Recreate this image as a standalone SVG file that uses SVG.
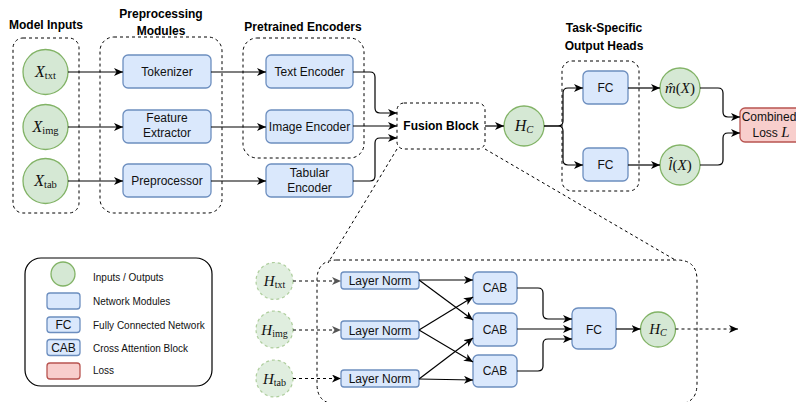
<svg xmlns="http://www.w3.org/2000/svg" width="796" height="402" viewBox="0 0 796 402">
  <style>
    .hdr { font-family: "Liberation Sans", Arial, sans-serif; font-size: 12px; font-weight: bold; fill: #000; text-anchor: middle; }
    .lbl { font-family: "Liberation Sans", Arial, sans-serif; font-size: 12px; fill: #111; text-anchor: middle; }
    .leg { font-family: "Liberation Sans", Arial, sans-serif; font-size: 10px; fill: #111; }
    .math { font-family: "Liberation Serif", "Times New Roman", serif; fill: #111; text-anchor: middle; }
    .io { fill: #d5e8d4; stroke: #82b366; stroke-width: 1.3; }
    .io-ghost { fill: #d5e8d4; fill-opacity: 0.75; stroke: #82b366; stroke-opacity: 0.6; stroke-width: 1.2; stroke-dasharray: 3 3; }
    .mod { fill: #dae8fc; stroke: #6c8ebf; stroke-width: 1.3; }
    .loss { fill: #f8cecc; stroke: #b85450; stroke-width: 1.3; }
    .group { fill: none; stroke: #000; stroke-width: 1; stroke-dasharray: 3 3; }
    .edge { fill: none; stroke: #000; stroke-width: 1.2; }
    .dash { fill: none; stroke: #000; stroke-width: 1; stroke-dasharray: 3 3; }
  </style>
  <defs>
    <marker id="arrow" markerUnits="userSpaceOnUse" markerWidth="10" markerHeight="9" refX="9" refY="4" orient="auto">
      <path d="M0,0 L9,4 L0,8 L2.5,4 Z" fill="#000"/>
    </marker>
    <marker id="arrow-grey" markerUnits="userSpaceOnUse" markerWidth="10" markerHeight="9" refX="9" refY="4" orient="auto">
      <path d="M0,0 L9,4 L0,8 L2.5,4 Z" fill="#555"/>
    </marker>
  </defs>
  <rect width="796" height="402" fill="#fff"/>

  <!-- group containers and headings -->
  <g id="model-inputs">
    <rect class="group" x="13" y="38" width="66" height="175" rx="10"/>
    <text class="hdr" x="46" y="29">Model Inputs</text>
  </g>
  <g id="preprocessing-modules">
    <rect class="group" x="100" y="37" width="122" height="176" rx="14"/>
    <text class="hdr" x="161" y="18">Preprocessing</text>
    <text class="hdr" x="161" y="35">Modules</text>
  </g>
  <g id="pretrained-encoders">
    <rect class="group" x="243" y="38" width="121" height="120" rx="14"/>
    <text class="hdr" x="303" y="31">Pretrained Encoders</text>
  </g>
  <g id="output-heads">
    <rect class="group" x="562" y="61" width="77" height="130" rx="10"/>
    <text class="hdr" x="604" y="32">Task-Specific</text>
    <text class="hdr" x="604" y="50">Output Heads</text>
  </g>

  <!-- inputs -->
  <g id="x-txt">
    <circle class="io" cx="45.5" cy="72" r="22.5"/>
    <text class="math" x="45.5" y="77"><tspan font-style="italic" font-size="16">X</tspan><tspan font-size="10.5" dy="2">txt</tspan></text>
  </g>
  <g id="x-img">
    <circle class="io" cx="45.5" cy="127" r="22.5"/>
    <text class="math" x="45.5" y="132"><tspan font-style="italic" font-size="16">X</tspan><tspan font-size="10.5" dy="2">img</tspan></text>
  </g>
  <g id="x-tab">
    <circle class="io" cx="45.5" cy="181" r="22.5"/>
    <text class="math" x="45.5" y="186"><tspan font-style="italic" font-size="16">X</tspan><tspan font-size="10.5" dy="2">tab</tspan></text>
  </g>

  <!-- preprocessing -->
  <g id="tokenizer">
    <rect class="mod" x="123" y="55" width="88" height="33" rx="5"/>
    <text class="lbl" x="167" y="76">Tokenizer</text>
  </g>
  <g id="feature-extractor">
    <rect class="mod" x="123" y="110" width="88" height="33" rx="5"/>
    <text class="lbl" x="167" y="122">Feature</text>
    <text class="lbl" x="167" y="137">Extractor</text>
  </g>
  <g id="preprocessor">
    <rect class="mod" x="123" y="164" width="88" height="33" rx="5"/>
    <text class="lbl" x="167" y="185">Preprocessor</text>
  </g>

  <!-- encoders -->
  <g id="text-encoder">
    <rect class="mod" x="266" y="55" width="87" height="33" rx="5"/>
    <text class="lbl" x="309.5" y="76">Text Encoder</text>
  </g>
  <g id="image-encoder">
    <rect class="mod" x="266" y="110" width="87" height="33" rx="5"/>
    <text class="lbl" x="309.5" y="131">Image Encoder</text>
  </g>
  <g id="tabular-encoder">
    <rect class="mod" x="266" y="164" width="87" height="33" rx="5"/>
    <text class="lbl" x="309.5" y="177">Tabular</text>
    <text class="lbl" x="309.5" y="192">Encoder</text>
  </g>

  <!-- fusion and heads -->
  <g id="fusion-block">
    <rect class="group" x="397" y="103" width="88" height="46" rx="7"/>
    <text class="hdr" x="441" y="130">Fusion Block</text>
  </g>
  <g id="h-c">
    <circle class="io" cx="524" cy="126" r="20"/>
    <text class="math" x="524" y="131"><tspan font-style="italic" font-size="16">H</tspan><tspan font-style="italic" font-size="10.5" dy="2">C</tspan></text>
  </g>
  <g id="fc-m">
    <rect class="mod" x="583" y="71" width="45" height="33" rx="5"/>
    <text class="lbl" x="605.5" y="92">FC</text>
  </g>
  <g id="fc-l">
    <rect class="mod" x="583" y="148" width="45" height="33" rx="5"/>
    <text class="lbl" x="605.5" y="169">FC</text>
  </g>
  <g id="m-hat">
    <circle class="io" cx="680" cy="88" r="20"/>
    <text class="math" x="680" y="93" font-size="15"><tspan font-style="italic">m̂</tspan>(<tspan font-style="italic">X</tspan>)</text>
  </g>
  <g id="l-hat">
    <circle class="io" cx="680" cy="165" r="20"/>
    <text class="math" x="680" y="170" font-size="15"><tspan font-style="italic">l̂</tspan>(<tspan font-style="italic">X</tspan>)</text>
  </g>
  <g id="combined-loss">
    <rect class="loss" x="740" y="108" width="68" height="34" rx="5"/>
    <text class="lbl" x="769" y="121" font-size="11.5">Combined</text>
    <text class="lbl" x="771" y="137">Loss <tspan font-family="Liberation Serif, serif" font-style="italic" font-size="15">L</tspan></text>
  </g>

  <!-- legend -->
  <g id="legend">
    <rect x="25" y="258" width="187" height="128" rx="16" fill="#fff" stroke="#000" stroke-width="1.2"/>
    <circle class="io" cx="63" cy="274" r="12"/>
    <rect class="mod" x="47" y="293" width="33" height="16" rx="3"/>
    <rect class="mod" x="47" y="317" width="33" height="15.5" rx="3"/>
    <text class="lbl" x="63.5" y="329">FC</text>
    <rect class="mod" x="47" y="339.5" width="33" height="16" rx="3"/>
    <text class="lbl" x="63.5" y="352">CAB</text>
    <rect class="loss" x="47" y="363" width="33" height="16" rx="3"/>
    <text class="leg" x="93" y="280.5">Inputs / Outputs</text>
    <text class="leg" x="93" y="305">Network Modules</text>
    <text class="leg" x="93" y="329">Fully Connected Network</text>
    <text class="leg" x="93" y="351.5">Cross Attention Block</text>
    <text class="leg" x="93" y="373.5">Loss</text>
  </g>

  <!-- fusion block detail -->
  <g id="fusion-detail">
    <path class="group" d="M337,260 H677 Q697,260 697,280 V384 Q697,404 677,404 H337 Q317,404 317,384 V280 Q317,260 337,260 Z"/>
  </g>
  <g id="h-txt">
    <circle class="io-ghost" cx="274.5" cy="281" r="18.5"/>
    <text class="math" x="274.5" y="286"><tspan font-style="italic" font-size="15">H</tspan><tspan font-size="10" dy="2">txt</tspan></text>
  </g>
  <g id="h-img">
    <circle class="io-ghost" cx="274.5" cy="329.5" r="18.5"/>
    <text class="math" x="274.5" y="334.5"><tspan font-style="italic" font-size="15">H</tspan><tspan font-size="10" dy="2">img</tspan></text>
  </g>
  <g id="h-tab">
    <circle class="io-ghost" cx="274.5" cy="378.5" r="18.5"/>
    <text class="math" x="274.5" y="383.5"><tspan font-style="italic" font-size="15">H</tspan><tspan font-size="10" dy="2">tab</tspan></text>
  </g>
  <g id="layer-norm-txt">
    <rect class="mod" x="341" y="272" width="78" height="17" rx="3"/>
    <text class="lbl" x="380" y="285" font-size="11.5">Layer Norm</text>
  </g>
  <g id="layer-norm-img">
    <rect class="mod" x="341" y="321" width="78" height="18" rx="3"/>
    <text class="lbl" x="380" y="334.5" font-size="11.5">Layer Norm</text>
  </g>
  <g id="layer-norm-tab">
    <rect class="mod" x="341" y="370" width="78" height="17" rx="3"/>
    <text class="lbl" x="380" y="383" font-size="11.5">Layer Norm</text>
  </g>
  <g id="cab-1">
    <rect class="mod" x="473" y="272" width="44" height="32" rx="5"/>
    <text class="lbl" x="495" y="292">CAB</text>
  </g>
  <g id="cab-2">
    <rect class="mod" x="473" y="313" width="44" height="33" rx="5"/>
    <text class="lbl" x="495" y="333.5">CAB</text>
  </g>
  <g id="cab-3">
    <rect class="mod" x="473" y="355" width="44" height="32" rx="5"/>
    <text class="lbl" x="495" y="375">CAB</text>
  </g>
  <g id="fc-fusion">
    <rect class="mod" x="572" y="308" width="44" height="41" rx="6"/>
    <text class="lbl" x="594" y="333.5">FC</text>
  </g>
  <g id="h-c-fusion">
    <circle class="io" cx="658" cy="329.5" r="17.5"/>
    <text class="math" x="658" y="334"><tspan font-style="italic" font-size="15">H</tspan><tspan font-style="italic" font-size="10" dy="2">C</tspan></text>
  </g>

  <!-- connectors -->
  <g id="connectors">
    <path class="edge" marker-end="url(#arrow)" d="M68,72 H123"/>
    <path class="edge" marker-end="url(#arrow)" d="M68,127 H123"/>
    <path class="edge" marker-end="url(#arrow)" d="M68,181 H123"/>
    <path class="edge" marker-end="url(#arrow)" d="M211,72 H266"/>
    <path class="edge" marker-end="url(#arrow)" d="M211,127 H266"/>
    <path class="edge" marker-end="url(#arrow)" d="M211,181 H266"/>
    <path class="edge" marker-end="url(#arrow)" d="M353,72 H370 Q375,72 375,77 V108 Q375,113 380,113 H397"/>
    <path class="edge" marker-end="url(#arrow)" d="M353,126 H397"/>
    <path class="edge" marker-end="url(#arrow)" d="M353,181 H370 Q375,181 375,176 V143 Q375,138 380,138 H397"/>
    <path class="edge" marker-end="url(#arrow)" d="M485,126 H504"/>
    <path class="edge" marker-end="url(#arrow)" d="M544,126 H558 Q563,126 563,121 V93 Q563,88 568,88 H583"/>
    <path class="edge" marker-end="url(#arrow)" d="M544,126 H558 Q563,126 563,131 V160 Q563,165 568,165 H583"/>
    <path class="edge" marker-end="url(#arrow)" d="M628,88 H660"/>
    <path class="edge" marker-end="url(#arrow)" d="M628,165 H660"/>
    <path class="edge" marker-end="url(#arrow)" d="M700,88 H718 Q723,88 723,93 V112 Q723,117 728,117 H740"/>
    <path class="edge" marker-end="url(#arrow)" d="M700,165 H718 Q723,165 723,160 V138 Q723,133 728,133 H740"/>

    <!-- zoom guides from the fusion block to its detail -->
    <path class="dash" d="M397,149 L328,263"/>
    <path class="dash" d="M485,149 L677,261"/>

    <!-- fusion block internals -->
    <path class="dash" marker-end="url(#arrow-grey)" d="M293,281 H341"/>
    <path class="dash" marker-end="url(#arrow-grey)" d="M293,330 H341"/>
    <path class="dash" marker-end="url(#arrow)" d="M293,378.5 H341"/>
    <path class="edge" marker-end="url(#arrow)" d="M419,280 L473,280"/>
    <path class="edge" marker-end="url(#arrow)" d="M419,280 L473,320"/>
    <path class="edge" marker-end="url(#arrow)" d="M419,330 L473,297"/>
    <path class="edge" marker-end="url(#arrow)" d="M419,330 L473,362"/>
    <path class="edge" marker-end="url(#arrow)" d="M419,379 L473,338"/>
    <path class="edge" marker-end="url(#arrow)" d="M419,379 L473,380"/>
    <path class="edge" marker-end="url(#arrow)" d="M517,288 H538 Q543,288 543,293 V314 Q543,319 548,319 H572"/>
    <path class="edge" marker-end="url(#arrow)" d="M517,329 H572"/>
    <path class="edge" marker-end="url(#arrow)" d="M517,371 H538 Q543,371 543,366 V344 Q543,339 548,339 H572"/>
    <path class="edge" marker-end="url(#arrow)" d="M616,329 H640.5"/>
    <path class="dash" marker-end="url(#arrow)" d="M675.5,329 H738"/>
  </g>
</svg>
